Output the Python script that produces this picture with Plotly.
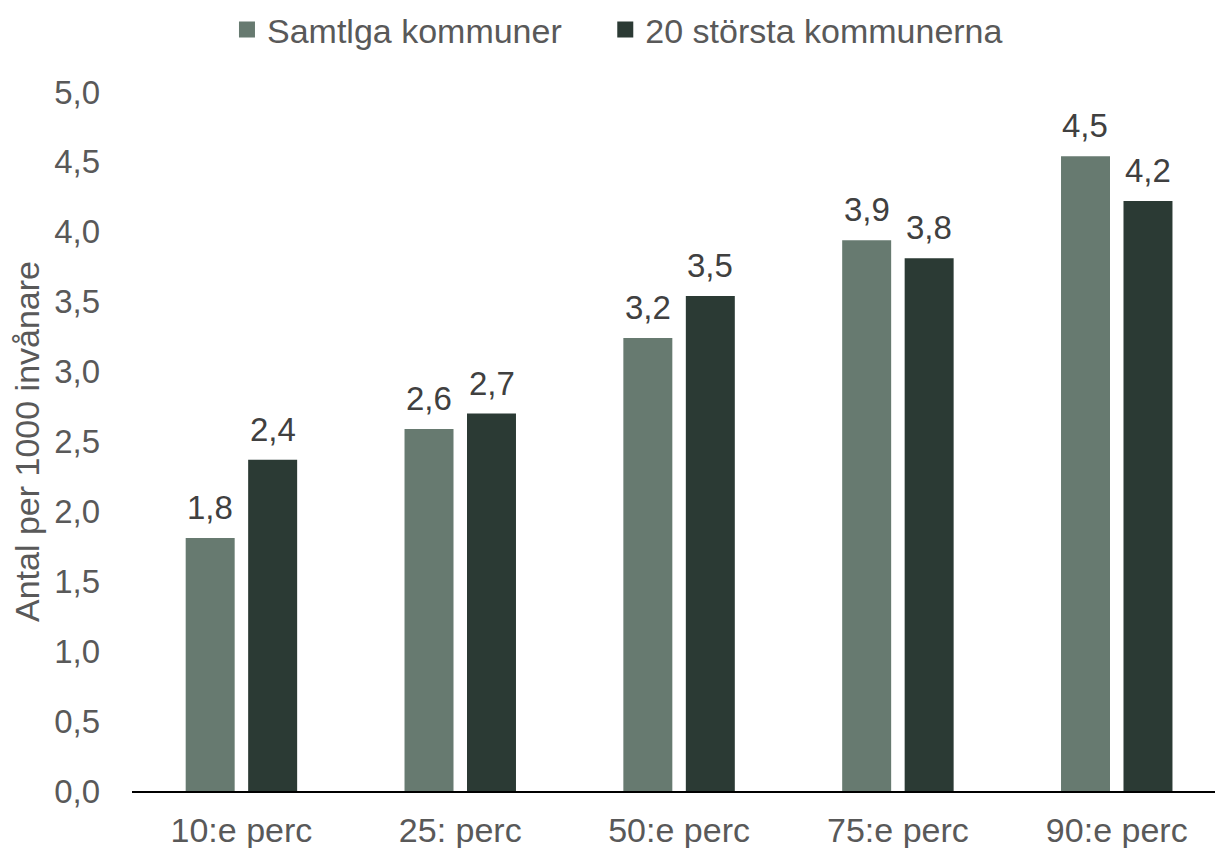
import plotly.graph_objects as go

categories = ["10:e perc", "25: perc", "50:e perc", "75:e perc", "90:e perc"]
series_names = ["Samtlga kommuner", "20 största kommunerna"]
samtliga = [1.81, 2.59, 3.24, 3.94, 4.54]
storsta20 = [2.37, 2.70, 3.54, 3.81, 4.22]
y_ticks = [0.0, 0.5, 1.0, 1.5, 2.0, 2.5, 3.0, 3.5, 4.0, 4.5, 5.0]

colors = ["#677a70", "#2b3a34"]
FONT = "Liberation Sans, Arial, sans-serif"
TICK_COLOR = "#595959"
LABEL_COLOR = "#404040"

fig = go.Figure()
for name, vals, col in zip(series_names, [samtliga, storsta20], colors):
    fig.add_trace(go.Bar(x=categories, y=vals, name=name, marker_color=col,
                         marker_line_width=0, showlegend=False))
# legend entries with larger square symbols, one legend per entry for spacing
for name, col, lg in zip(series_names, colors, ["legend", "legend2"]):
    fig.add_trace(go.Scatter(x=[None], y=[None], mode="markers", name=name,
                             legend=lg,
                             marker=dict(symbol="square", size=17, color=col)))

slot_px = 62.5
for i, vals in enumerate([samtliga, storsta20]):
    for c, v in zip(categories, vals):
        fig.add_annotation(x=c, y=v, text=f"{v:.1f}".replace(".", ","),
                           showarrow=False, xshift=(i - 0.5) * slot_px,
                           yanchor="bottom", yshift=10,
                           font=dict(family=FONT, size=33, color=LABEL_COLOR))

legend_style = dict(orientation="h", y=1.089, yanchor="middle", xanchor="left",
                    font=dict(family=FONT, size=34, color=TICK_COLOR),
                    itemsizing="trace", bgcolor="rgba(0,0,0,0)")

fig.update_layout(
    width=1215, height=848,
    margin=dict(l=132, r=0, t=92, b=57, autoexpand=False),
    paper_bgcolor="white", plot_bgcolor="white",
    barmode="group", bargap=0.429, bargroupgap=0.216,
    separators=", ",
    font=dict(family=FONT, size=33, color=TICK_COLOR),
    legend=dict(x=0.0877, **legend_style),
    legend2=dict(x=0.437, **legend_style),
    xaxis=dict(range=[-0.5, 4.449], showgrid=False, showline=True, linecolor="#000000",
               linewidth=2, ticks="", ticklabelstandoff=8, automargin=False,
               tickfont=dict(family=FONT, size=34, color=TICK_COLOR)),
    yaxis=dict(range=[0, 5], tickvals=y_ticks, tickformat=".1f", showgrid=False,
               zeroline=False, showline=False, ticks="", ticklabelstandoff=31,
               automargin=False,
               tickfont=dict(family=FONT, size=33, color=TICK_COLOR),
               title=dict(text="Antal per 1000 invånare", standoff=4,
                          font=dict(family=FONT, size=34, color=TICK_COLOR))),
)

fig.write_html("out.html", config={"displayModeBar": False},
               post_script="document.body.style.margin='0';")
